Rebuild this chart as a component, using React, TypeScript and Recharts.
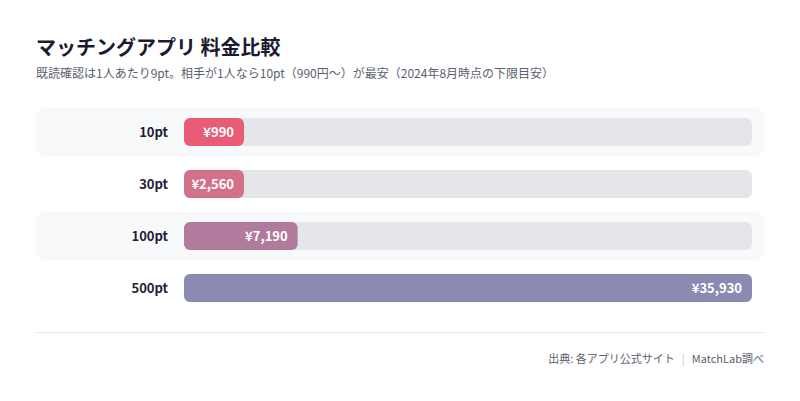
import React from 'react';
import { BarChart, Bar, XAxis, YAxis, LabelList, Cell } from 'recharts';

const categories = ['10pt', '30pt', '100pt', '500pt'];
const prices = [990, 2560, 7190, 35930];
const colors = ['#E85D75', '#D4718A', '#B07B9C', '#8B8AB2'];

const data = categories.map((name, i) => ({ name, price: prices[i] }));

const FONT = '"Noto Sans CJK JP", "Noto Sans", sans-serif';

const yen = (v: number) => '¥' + v.toLocaleString('en-US');

function RowBackground(props: any) {
  const { x, y, width, height, index } = props;
  const cy = y + height / 2;
  return (
    <g>
      {index % 2 === 0 && (
        <rect x={36} y={cy - 24} width={728} height={48} rx={8} fill="#F8F9FB" />
      )}
      <rect x={x} y={y} width={width} height={height} rx={6} fill="#E5E6EA" />
    </g>
  );
}

function CategoryTick(props: any) {
  const { x, y, payload } = props;
  return (
    <text
      x={x}
      y={y}
      dy={5}
      textAnchor="end"
      fontFamily={FONT}
      fontSize={13}
      fontWeight={700}
      fill="#1F2233"
    >
      {payload.value}
    </text>
  );
}

function ValueLabel(props: any) {
  const { x, y, width, height, value } = props;
  return (
    <text
      x={x + width - 10}
      y={y + height / 2}
      dy={5}
      textAnchor="end"
      fontFamily={FONT}
      fontSize={13}
      fontWeight={700}
      fill="#FFFFFF"
    >
      {yen(value)}
    </text>
  );
}

export default function App() {
  return (
    <div
      style={{
        position: 'absolute',
        left: 0,
        top: 0,
        width: 800,
        height: 401,
        background: '#FFFFFF',
        fontFamily: FONT,
        overflow: 'hidden',
      }}
    >
      <div
        style={{
          position: 'absolute',
          left: 36,
          top: 33,
          fontSize: 20,
          lineHeight: '28px',
          fontWeight: 700,
          color: '#1A1B2E',
        }}
      >
        マッチングアプリ 料金比較
      </div>
      <div
        style={{
          position: 'absolute',
          left: 36,
          top: 64,
          fontSize: 12,
          lineHeight: '18px',
          color: '#5B6070',
        }}
      >
        既読確認は1人あたり9pt。相手が1人なら10pt（990円〜）が最安（2024年8月時点の下限目安）
      </div>

      <div style={{ position: 'absolute', left: 0, top: 0 }}>
        <BarChart
          width={800}
          height={401}
          layout="vertical"
          data={data}
          margin={{ top: 106, right: 48, bottom: 87, left: 0 }}
          barSize={28}
        >
          <XAxis type="number" hide domain={[0, prices[prices.length - 1]]} />
          <YAxis
            type="category"
            dataKey="name"
            width={184}
            axisLine={false}
            tickLine={false}
            tickSize={0}
            tickMargin={16}
            tick={<CategoryTick />}
          />
          <Bar
            dataKey="price"
            radius={6}
            minPointSize={60}
            background={<RowBackground />}
            isAnimationActive={false}
          >
            {data.map((d, i) => (
              <Cell key={d.name} fill={colors[i]} />
            ))}
            <LabelList dataKey="price" content={<ValueLabel />} />
          </Bar>
        </BarChart>
      </div>

      <div
        style={{
          position: 'absolute',
          left: 36,
          top: 332,
          width: 728,
          height: 1,
          background: '#E6E7EA',
        }}
      />
      <div
        style={{
          position: 'absolute',
          right: 36,
          top: 350,
          fontSize: 11,
          lineHeight: '16px',
          color: '#5B6070',
          whiteSpace: 'nowrap',
        }}
      >
        出典: 各アプリ公式サイト
        <span style={{ color: '#C9CBD2', margin: '0 7px' }}>|</span>
        MatchLab調べ
      </div>
    </div>
  );
}
